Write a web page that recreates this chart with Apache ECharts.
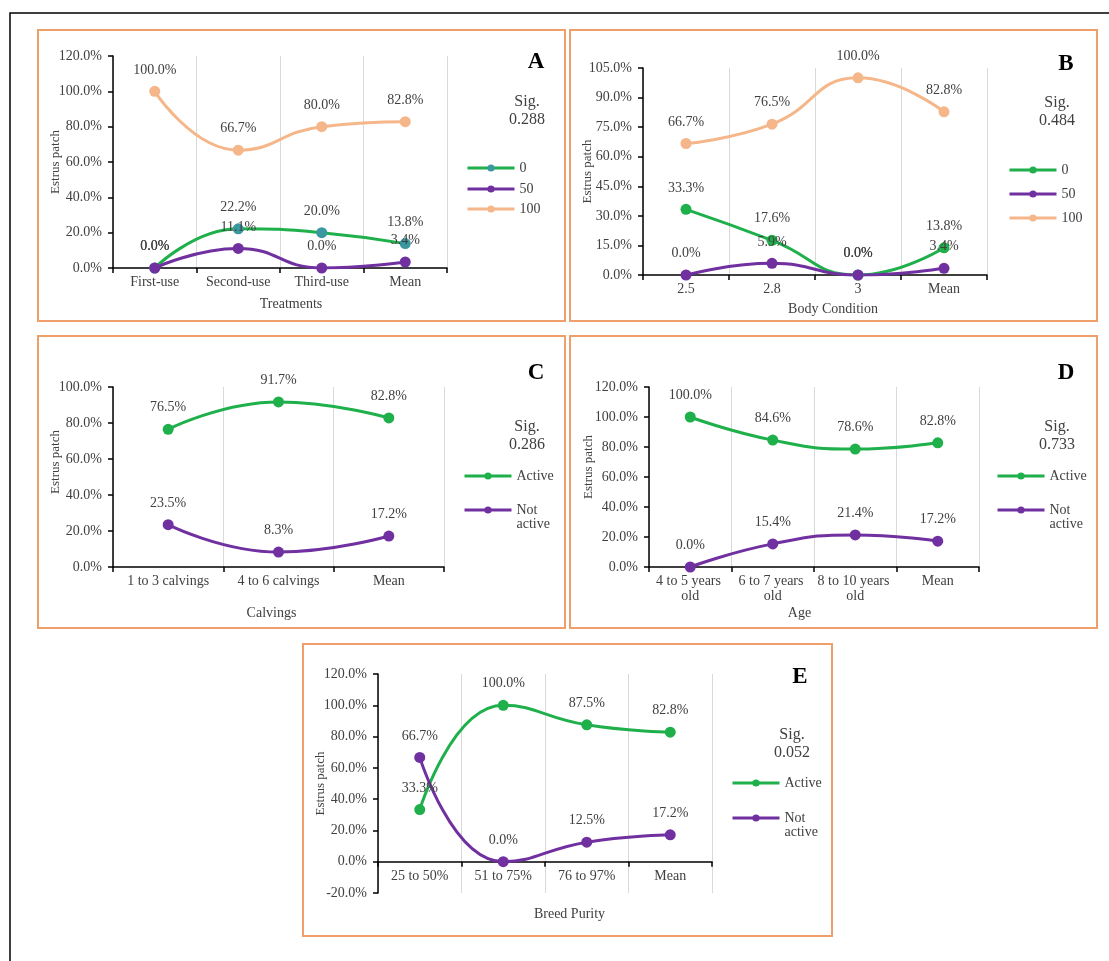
<!DOCTYPE html>
<html>
<head>
<meta charset="utf-8">
<script src="https://cdn.jsdelivr.net/npm/echarts@6/dist/echarts.min.js"></script>
<style>
html,body{margin:0;padding:0;background:#fff;}
#c{width:1109px;height:961px;}
</style>
</head>
<body>
<div id="c"></div>
<script>
// ---------- DATA ----------
const catA = ['First-use', 'Second-use', 'Third-use', 'Mean'];
const a0   = [0.0, 22.2, 20.0, 13.8];
const a50  = [0.0, 11.1, 0.0, 3.4];
const a100 = [100.0, 66.7, 80.0, 82.8];
const sigA = '0.288';

const catB = ['2.5', '2.8', '3', 'Mean'];
const b0   = [33.3, 17.6, 0.0, 13.8];
const b50  = [0.0, 5.9, 0.0, 3.4];
const b100 = [66.7, 76.5, 100.0, 82.8];
const sigB = '0.484';

const catC = ['1 to 3 calvings', '4 to 6 calvings', 'Mean'];
const cActive = [76.5, 91.7, 82.8];
const cNot    = [23.5, 8.3, 17.2];
const sigC = '0.286';

const catD = ['4 to 5 years old', '6 to 7 years old', '8 to 10 years old', 'Mean'];
const dActive = [100.0, 84.6, 78.6, 82.8];
const dNot    = [0.0, 15.4, 21.4, 17.2];
const sigD = '0.733';

const catE = ['25 to 50%', '51 to 75%', '76 to 97%', 'Mean'];
const eActive = [33.3, 100.0, 87.5, 82.8];
const eNot    = [66.7, 0.0, 12.5, 17.2];
const sigE = '0.052';

const yTicksA = {min: 0, max: 120, interval: 20};
const yTicksB = {min: 0, max: 105, interval: 15};
const yTicksC = {min: 0, max: 100, interval: 20};
const yTicksD = {min: 0, max: 120, interval: 20};
const yTicksE = {min: -20, max: 120, interval: 20};

const xNames = ['Treatments', 'Body Condition', 'Calvings', 'Age', 'Breed Purity'];
const yName = 'Estrus patch';
const letters = ['A', 'B', 'C', 'D', 'E'];

// ---------- STYLE ----------
const FONT = 'Liberation Serif';
const GREEN = '#1FB04C', PURPLE = '#7030A0', PEACH = '#F5B68A', TEAL = '#3A98A0';
const TXT = '#404040';
const ORANGE = '#EF9F6A';

const panels = [
  {grid:{left:113, top:56, width:334, height:212}, cats:catA, y:yTicksA, xGap:29, xPad:[0,0,0,22], yGap:51, yPad:0,
   series:[{name:'0', data:a0, line:GREEN, mark:TEAL}, {name:'50', data:a50, line:PURPLE, mark:PURPLE}, {name:'100', data:a100, line:PEACH, mark:PEACH}],
   legLeft:466, legY:[168,189,209], lx:536, ly:62, sig:sigA, sx:527, sy:102, box:[38,30,527,291]},
  {grid:{left:643, top:68, width:344, height:207}, cats:catB, y:yTicksB, xGap:27, xPad:[0,0,0,36], yGap:49, yPad:0,
   series:[{name:'0', data:b0, line:GREEN, mark:GREEN}, {name:'50', data:b50, line:PURPLE, mark:PURPLE}, {name:'100', data:b100, line:PEACH, mark:PEACH}],
   legLeft:1008, legY:[170,194,218], lx:1066, ly:64, sig:sigB, sx:1057, sy:103, box:[570,30,527,291]},
  {grid:{left:113, top:387, width:331, height:180}, cats:catC, y:yTicksC, xGap:39, xPad:[0,14,0,0], yGap:51, yPad:[0,0,0,30],
   series:[{name:'Active', data:cActive, line:GREEN, mark:GREEN}, {name:'Not active', data:cNot, line:PURPLE, mark:PURPLE}],
   legLeft:463, legY:[476,510], lx:536, ly:373, sig:sigC, sx:527, sy:427, box:[38,336,527,292]},
  {grid:{left:649, top:387, width:330, height:180}, cats:catD, y:yTicksD, xGap:39, xPad:[0,29,0,0], yGap:54, yPad:[0,0,0,20], labelWidth:80,
   series:[{name:'Active', data:dActive, line:GREEN, mark:GREEN}, {name:'Not active', data:dNot, line:PURPLE, mark:PURPLE}],
   legLeft:996, legY:[476,510], lx:1066, ly:373, sig:sigD, sx:1057, sy:427, box:[570,336,527,292]},
  {grid:{left:378, top:674, width:334, height:219}, cats:catE, y:yTicksE, xGap:46, xPad:[0,0,0,49], yGap:51, yPad:0, zeroShift:true,
   series:[{name:'Active', data:eActive, line:GREEN, mark:GREEN}, {name:'Not active', data:eNot, line:PURPLE, mark:PURPLE}],
   legLeft:731, legY:[783,818], lx:800, ly:677, sig:sigE, sx:792, sy:735, box:[303,644,529,292]}
];

const grids = [], xAxes = [], yAxes = [], series = [], legends = [], graphics = [];

graphics.push({type:'rect', shape:{x:10, y:13, width:1200, height:1000}, style:{fill:'none', stroke:'#000', lineWidth:1.5}, silent:true});

panels.forEach((p, i) => {
  grids.push(Object.assign({containLabel:false}, p.grid));
  const xl = {color:TXT, fontFamily:FONT, fontSize:14, margin:7, interval:0, lineHeight:15};
  if (p.labelWidth) { xl.width = p.labelWidth; xl.overflow = 'break'; }
  // where the zero line sits inside the grid (axis is moved up to it)
  const zeroOffset = p.zeroShift ? -(0 - p.y.min) / (p.y.max - p.y.min) * p.grid.height : 0;
  xAxes.push({
    type:'category', gridIndex:i, data:p.cats, boundaryGap:true, offset:zeroOffset,
    axisLine:{onZero:false, lineStyle:{color:'#000', width:1.5}},
    axisTick:{show:true, length:5, alignWithLabel:false, lineStyle:{color:'#000', width:1.5}},
    axisLabel:xl,
    splitLine:{show:true, lineStyle:{color:'#D9D9D9', width:1}},
    name:xNames[i], nameLocation:'middle', nameGap:p.xGap, nameMoveOverlap:false,
    nameTextStyle:{color:TXT, fontFamily:FONT, fontSize:14, padding:p.xPad}
  });
  yAxes.push({
    type:'value', gridIndex:i, min:p.y.min, max:p.y.max, interval:p.y.interval,
    axisLine:{show:true, onZero:false, lineStyle:{color:'#000', width:1.5}},
    axisTick:{show:true, length:5, lineStyle:{color:'#000', width:1.5}},
    splitLine:{show:false},
    axisLabel:{color:TXT, fontFamily:FONT, fontSize:14, margin:11, formatter:v => v.toFixed(1) + '%'},
    name:yName, nameLocation:'middle', nameGap:p.yGap, nameMoveOverlap:false,
    nameTextStyle:{color:TXT, fontFamily:FONT, fontSize:13, padding:p.yPad}
  });
  p.series.forEach((s, k) => {
    series.push({
      type:'line', name:s.name, xAxisIndex:i, yAxisIndex:i, data:s.data,
      smooth:0.5, symbol:'circle', symbolSize:11, showSymbol:true,
      lineStyle:{color:s.line, width:3},
      itemStyle:{color:s.mark},
      label:{show:true, position:'top', distance:9, color:TXT, fontFamily:FONT, fontSize:14,
             formatter:o => o.value.toFixed(1) + '%'},
      emphasis:{disabled:true}, animation:false
    });
    const two = s.name === 'Not active';
    legends.push({
      left:p.legLeft, top:p.legY[k] - (two ? 21 : 7), orient:'vertical', padding:0,
      itemWidth:47, itemHeight:9, itemGap:0, selectedMode:false,
      data:[{name:s.name, itemStyle:{color:s.mark}, lineStyle:{color:s.line, width:3}}],
      formatter:n => n === 'Not active' ? '\nNot\nactive' : n,
      textStyle:{color:TXT, fontFamily:FONT, fontSize:14, lineHeight:14}
    });
  });
  const b = p.box;
  graphics.push({type:'rect', shape:{x:b[0], y:b[1], width:b[2], height:b[3]}, style:{fill:'none', stroke:ORANGE, lineWidth:2}, silent:true});
  graphics.push({type:'text', x:p.lx, y:p.ly, style:{text:letters[i], fill:'#000', font:'bold 23px "' + FONT + '"', textAlign:'center', textVerticalAlign:'middle'}, silent:true});
  graphics.push({type:'text', x:p.sx, y:p.sy, style:{text:'Sig.', fill:TXT, font:'16px "' + FONT + '"', textAlign:'center', textVerticalAlign:'middle'}, silent:true});
  graphics.push({type:'text', x:p.sx, y:p.sy + 18, style:{text:p.sig, fill:TXT, font:'16px "' + FONT + '"', textAlign:'center', textVerticalAlign:'middle'}, silent:true});
});

const chart = echarts.init(document.getElementById('c'), null, {renderer:'canvas', width:1109, height:961});
chart.setOption({
  backgroundColor:'#fff',
  animation:false,
  grid:grids, xAxis:xAxes, yAxis:yAxes, series:series, legend:legends,
  graphic:graphics
});
</script>
</body>
</html>
